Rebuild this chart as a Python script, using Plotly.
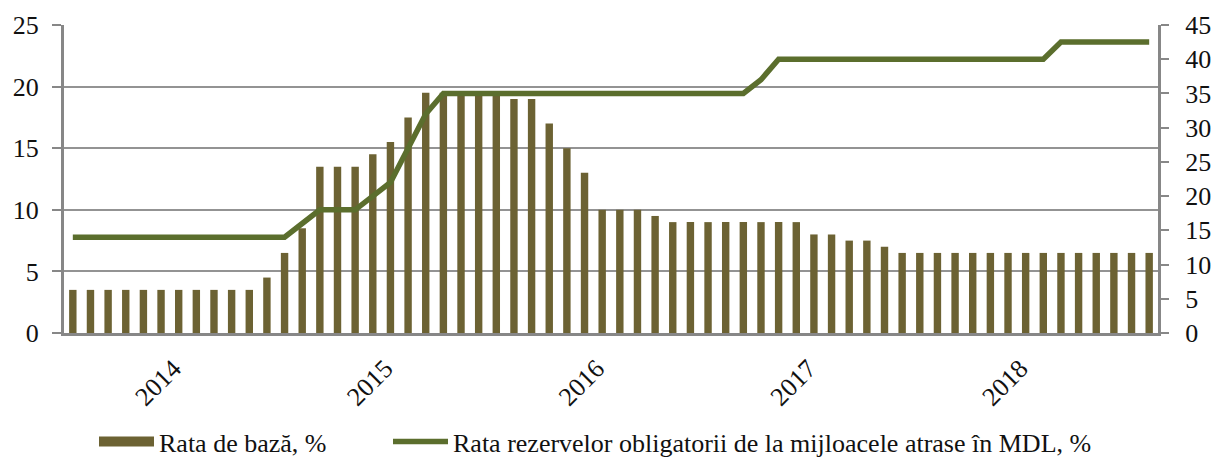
import plotly.graph_objects as go

# Monthly observations (62 months)
months = [f"{y}-{m:02d}" for y in range(2014, 2020) for m in range(1, 13)][:62]

base_rate = [3.5, 3.5, 3.5, 3.5, 3.5, 3.5, 3.5, 3.5, 3.5, 3.5, 3.5, 4.5,
             6.5, 8.5, 13.5, 13.5, 13.5, 14.5, 15.5, 17.5, 19.5, 19.5, 19.5, 19.5,
             19.5, 19.0, 19.0, 17.0, 15.0, 13.0, 10.0, 10.0, 10.0, 9.5, 9.0, 9.0,
             9.0, 9.0, 9.0, 9.0, 9.0, 9.0, 8.0, 8.0, 7.5, 7.5, 7.0, 6.5,
             6.5, 6.5, 6.5, 6.5, 6.5, 6.5, 6.5, 6.5, 6.5, 6.5, 6.5, 6.5,
             6.5, 6.5]

reserve_rate = [14, 14, 14, 14, 14, 14, 14, 14, 14, 14, 14, 14,
                14, 16, 18, 18, 18, 20, 22, 27, 32, 35, 35, 35,
                35, 35, 35, 35, 35, 35, 35, 35, 35, 35, 35, 35,
                35, 35, 35, 37, 40, 40, 40, 40, 40, 40, 40, 40,
                40, 40, 40, 40, 40, 40, 40, 40, 42.5, 42.5, 42.5, 42.5,
                42.5, 42.5]

year_ticks = [5.7, 17.7, 29.7, 41.7, 53.7]
year_labels = ["2014", "2015", "2016", "2017", "2018"]

x_idx = list(range(len(months)))

FONT = "Liberation Serif"
AXIS_GRAY = "#878787"
BAR_COLOR = "#6c6233"
LINE_COLOR = "#5b6e2d"
BAR_NAME = "Rata de bază, %"
LINE_NAME = "Rata rezervelor obligatorii de la mijloacele atrase în MDL, %"

fig = go.Figure()
fig.add_trace(go.Bar(
    x=x_idx, y=base_rate, name=BAR_NAME,
    customdata=months, legendgroup="base", showlegend=False,
    marker=dict(color=BAR_COLOR, line=dict(width=0)),
    width=0.42,
    yaxis="y",
))
# legend entry drawn as a wide block, like the reference
fig.add_trace(go.Scatter(
    x=[None], y=[None], name=BAR_NAME, legendgroup="base", legend="legend",
    mode="lines", line=dict(color=BAR_COLOR, width=13),
    yaxis="y", hoverinfo="skip",
))
fig.add_trace(go.Scatter(
    x=x_idx, y=reserve_rate, name=LINE_NAME, legend="legend2",
    customdata=months,
    mode="lines",
    line=dict(color=LINE_COLOR, width=5.5),
    yaxis="y2",
))

legend_common = dict(orientation="h", xref="container", yref="container",
                     xanchor="left", y=0.036, yanchor="middle",
                     font=dict(family=FONT, size=26), itemwidth=55,
                     bgcolor="rgba(0,0,0,0)",
                     itemclick=False, itemdoubleclick=False)

fig.update_layout(
    width=1214, height=458,
    margin=dict(l=64, r=56, t=25, b=125, autoexpand=False),
    paper_bgcolor="white", plot_bgcolor="white",
    font=dict(family=FONT, size=26, color="#111111"),
    showlegend=True,
    legend=dict(x=94 / 1214, **legend_common),
    legend2=dict(x=388 / 1214, **legend_common),
    xaxis=dict(
        range=[-0.5, len(months) - 0.5], automargin=False,
        tickmode="array", tickvals=year_ticks, ticktext=year_labels,
        tickangle=-45, showgrid=False, zeroline=False,
        showline=True, linecolor=AXIS_GRAY, linewidth=3,
        ticks="", tickfont=dict(family=FONT, size=26),
        ticklabelstandoff=7,
    ),
    yaxis=dict(
        range=[0, 25], tickvals=[0, 5, 10, 15, 20, 25], automargin=False,
        showgrid=True, gridcolor="#939393", gridwidth=2,
        zeroline=False, showline=True, linecolor=AXIS_GRAY, linewidth=3,
        ticks="outside", ticklen=9, tickwidth=2, tickcolor=AXIS_GRAY,
        tickfont=dict(family=FONT, size=26), ticklabelstandoff=8,
    ),
    yaxis2=dict(
        range=[0, 45], tickvals=list(range(0, 46, 5)), automargin=False,
        overlaying="y", side="right", showgrid=False, zeroline=False,
        showline=True, linecolor=AXIS_GRAY, linewidth=3,
        ticks="outside", ticklen=8, tickwidth=2, tickcolor=AXIS_GRAY,
        tickfont=dict(family=FONT, size=26), ticklabelstandoff=11,
    ),
    bargap=0.58,
)

fig.write_html(
    "out.html",
    config={"displayModeBar": False},
    post_script="document.body.style.margin='0';document.body.style.overflow='hidden';",
)
